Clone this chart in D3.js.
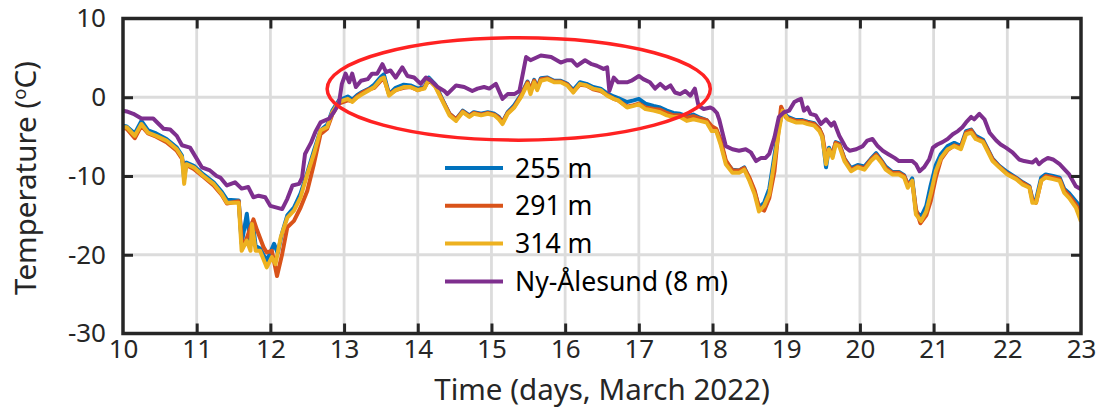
<!DOCTYPE html>
<html>
<head>
<meta charset="utf-8">
<script src="https://cdn.jsdelivr.net/npm/d3@7"></script>
<style>
  body { margin: 0; background: #fff; }
  svg { display: block; }
</style>
</head>
<body>
<svg id="chart"></svg>
<script>
const width = 1102;
const height = 408;
const plotLeft = 123, plotRight = 1081, plotTop = 18.5, plotBottom = 333.5;
const font = '"Noto Sans", sans-serif';

const dayTicks = [10, 11, 12, 13, 14, 15, 16, 17, 18, 19, 20, 21, 22, 23];
const tempTicks = [-30, -20, -10, 0, 10];
const seriesNames = ['255 m', '291 m', '314 m', 'Ny-Ålesund (8 m)'];
const seriesColors = ['#0072BD', '#D95319', '#EDB120', '#7E2F8E'];

// [day of March, temperature in deg C]
const temp255 = [
  [10.0,-3.6],[10.05,-3.7],[10.16,-4.6],[10.25,-3.0],[10.34,-4.2],[10.45,-4.6],[10.59,-5.3],[10.73,-6.4],[10.80,-7.4],[10.83,-10.4],
  [10.86,-8.3],[10.96,-8.7],[11.09,-9.8],[11.23,-10.8],[11.34,-12.0],[11.41,-13.0],[11.57,-13.1],[11.61,-18.6],[11.68,-14.8],[11.73,-18.8],
  [11.76,-15.8],[11.80,-18.9],[11.86,-19.2],[11.95,-20.8],[12.05,-18.6],[12.10,-19.8],[12.16,-17.2],[12.23,-15.0],[12.32,-14.0],[12.41,-12.2],
  [12.50,-9.6],[12.59,-6.8],[12.68,-4.2],[12.77,-3.5],[12.84,-1.7],[12.93,-0.4],[13.05,0.1],[13.11,-0.3],[13.18,0.3],[13.25,0.7],
  [13.34,1.1],[13.41,1.6],[13.50,2.6],[13.54,2.9],[13.61,0.4],[13.70,1.2],[13.81,1.6],[13.90,1.5],[14.0,1.1],[14.09,1.3],
  [14.15,2.5],[14.24,1.6],[14.33,-0.2],[14.43,-2.1],[14.52,-2.8],[14.61,-1.7],[14.70,-2.3],[14.76,-1.9],[14.86,-2.1],[14.95,-1.9],
  [15.04,-2.1],[15.10,-2.5],[15.15,-3.2],[15.22,-1.9],[15.31,-1.0],[15.40,0.3],[15.49,2.0],[15.53,0.8],[15.58,2.2],[15.62,1.2],
  [15.67,2.4],[15.76,2.5],[15.85,2.1],[15.94,2.1],[16.03,1.7],[16.11,0.9],[16.20,1.9],[16.29,1.7],[16.38,1.3],[16.48,1.1],
  [16.57,0.5],[16.66,0.1],[16.72,-0.1],[16.84,-0.6],[16.93,-0.4],[17.0,-0.2],[17.09,-0.8],[17.20,-1.1],[17.29,-1.3],[17.38,-1.7],
  [17.47,-2.0],[17.56,-2.1],[17.65,-2.4],[17.74,-2.2],[17.83,-2.6],[17.92,-2.9],[17.99,-4.0],[18.05,-4.1],[18.11,-5.7],[18.18,-8.2],
  [18.27,-9.2],[18.36,-9.3],[18.43,-8.9],[18.50,-10.4],[18.57,-12.0],[18.63,-14.0],[18.70,-13.4],[18.77,-11.6],[18.84,-7.4],[18.90,-3.8],
  [18.95,-1.8],[19.02,-2.5],[19.13,-2.9],[19.22,-2.9],[19.29,-3.1],[19.38,-3.3],[19.45,-4.0],[19.49,-4.9],[19.54,-8.9],[19.58,-6.4],
  [19.63,-7.4],[19.67,-5.7],[19.72,-5.9],[19.79,-7.8],[19.88,-9.0],[19.97,-8.6],[20.06,-8.8],[20.15,-7.8],[20.22,-7.1],[20.29,-8.0],
  [20.35,-8.8],[20.44,-9.5],[20.53,-9.5],[20.60,-9.9],[20.65,-11.2],[20.71,-10.3],[20.76,-14.5],[20.83,-15.2],[20.90,-13.8],[20.96,-11.2],
  [21.03,-8.6],[21.10,-7.2],[21.19,-6.2],[21.28,-5.8],[21.37,-6.2],[21.44,-4.3],[21.51,-4.1],[21.57,-4.9],[21.67,-5.4],[21.73,-6.5],
  [21.80,-7.8],[21.89,-8.7],[22.0,-9.5],[22.12,-10.2],[22.21,-10.8],[22.30,-11.3],[22.34,-12.9],[22.39,-13.0],[22.46,-10.2],[22.52,-9.8],
  [22.62,-10.0],[22.71,-10.2],[22.77,-11.6],[22.84,-12.2],[22.93,-13.2],[23.0,-14.0]
];

const temp291 = [
  [10.0,-3.9],[10.05,-4.0],[10.16,-5.2],[10.25,-3.6],[10.34,-4.6],[10.45,-5.0],[10.59,-5.7],[10.73,-6.8],[10.80,-7.8],[10.83,-9.0],
  [10.86,-8.6],[10.96,-9.1],[11.09,-10.1],[11.23,-11.2],[11.34,-12.4],[11.41,-13.5],[11.57,-13.2],[11.61,-18.2],[11.66,-18.4],[11.72,-16.8],
  [11.77,-15.5],[11.82,-16.9],[11.91,-19.1],[11.95,-19.7],[12.02,-19.5],[12.09,-22.7],[12.16,-19.9],[12.23,-16.5],[12.32,-15.7],[12.41,-14.0],
  [12.50,-11.9],[12.59,-8.5],[12.68,-4.7],[12.77,-4.0],[12.84,-2.2],[12.93,-0.8],[13.05,-0.4],[13.11,-0.5],[13.18,0.1],[13.25,0.6],
  [13.34,1.0],[13.41,1.2],[13.50,2.1],[13.54,2.4],[13.61,0.4],[13.70,0.9],[13.81,1.2],[13.90,1.3],[14.0,0.9],[14.09,1.2],
  [14.15,2.2],[14.24,1.4],[14.33,-0.3],[14.43,-2.1],[14.52,-2.8],[14.61,-1.8],[14.70,-2.4],[14.76,-2.0],[14.86,-2.2],[14.95,-2.0],
  [15.04,-2.2],[15.10,-2.6],[15.15,-3.2],[15.22,-2.0],[15.31,-1.2],[15.40,0.2],[15.49,1.9],[15.53,1.0],[15.58,2.1],[15.62,1.1],
  [15.67,2.3],[15.76,2.4],[15.85,2.0],[15.94,2.0],[16.03,1.6],[16.11,0.7],[16.20,1.6],[16.29,1.5],[16.38,1.0],[16.48,0.8],
  [16.57,0.3],[16.66,-0.2],[16.72,-0.4],[16.84,-1.2],[16.93,-1.0],[17.0,-0.8],[17.09,-1.3],[17.20,-1.5],[17.29,-1.6],[17.38,-2.0],
  [17.47,-2.3],[17.56,-2.3],[17.65,-2.6],[17.74,-2.4],[17.83,-2.7],[17.92,-2.9],[17.99,-3.7],[18.05,-4.0],[18.11,-5.4],[18.18,-8.0],
  [18.27,-9.3],[18.36,-9.3],[18.43,-9.0],[18.50,-10.2],[18.57,-11.8],[18.63,-14.0],[18.70,-14.4],[18.77,-12.8],[18.84,-9.4],[18.90,-3.8],
  [18.93,-1.2],[19.0,-2.6],[19.13,-3.0],[19.22,-3.0],[19.29,-3.2],[19.38,-3.4],[19.45,-4.0],[19.49,-4.8],[19.54,-7.6],[19.58,-6.8],
  [19.63,-7.0],[19.67,-5.8],[19.72,-6.0],[19.79,-7.8],[19.88,-9.2],[19.97,-8.8],[20.06,-9.0],[20.15,-7.9],[20.22,-7.3],[20.29,-8.1],
  [20.35,-9.0],[20.44,-9.6],[20.53,-9.6],[20.60,-10.0],[20.65,-11.0],[20.71,-10.7],[20.76,-14.2],[20.82,-16.0],[20.90,-15.0],[20.96,-13.2],
  [21.03,-10.2],[21.10,-7.9],[21.19,-6.7],[21.28,-6.1],[21.37,-6.4],[21.44,-4.5],[21.51,-4.2],[21.57,-5.1],[21.67,-5.6],[21.73,-6.6],
  [21.80,-7.9],[21.89,-8.8],[22.0,-9.7],[22.12,-10.3],[22.21,-10.9],[22.30,-11.4],[22.34,-13.0],[22.39,-13.4],[22.46,-10.6],[22.52,-10.0],
  [22.62,-10.2],[22.71,-10.4],[22.77,-11.8],[22.84,-12.5],[22.93,-13.6],[23.0,-14.8]
];

const temp314 = [
  [10.0,-3.8],[10.05,-3.8],[10.16,-4.9],[10.25,-3.4],[10.34,-4.5],[10.45,-4.9],[10.59,-5.5],[10.73,-6.6],[10.80,-7.6],[10.83,-11.0],
  [10.86,-8.5],[10.96,-8.9],[11.09,-10.0],[11.23,-11.0],[11.34,-12.3],[11.41,-13.4],[11.57,-13.4],[11.61,-19.5],[11.68,-18.2],[11.73,-19.5],
  [11.75,-16.1],[11.80,-19.5],[11.86,-19.5],[11.95,-21.6],[12.02,-20.3],[12.07,-21.2],[12.14,-17.8],[12.23,-15.3],[12.32,-14.4],[12.41,-12.7],
  [12.50,-9.8],[12.59,-7.2],[12.68,-4.2],[12.77,-3.8],[12.84,-1.9],[12.93,-0.6],[13.05,-0.2],[13.11,-0.6],[13.18,0.0],[13.25,0.4],
  [13.34,0.9],[13.41,1.3],[13.50,2.3],[13.54,2.5],[13.61,0.2],[13.70,0.9],[13.81,1.3],[13.90,1.3],[14.0,0.9],[14.09,1.1],
  [14.15,2.3],[14.24,1.3],[14.33,-0.4],[14.43,-2.3],[14.52,-3.0],[14.61,-1.9],[14.70,-2.5],[14.76,-2.1],[14.86,-2.3],[14.95,-2.1],
  [15.04,-2.3],[15.10,-2.8],[15.15,-3.4],[15.22,-2.1],[15.31,-1.3],[15.40,0.0],[15.49,1.7],[15.53,0.4],[15.58,1.9],[15.62,0.9],
  [15.67,2.1],[15.76,2.3],[15.85,1.9],[15.94,1.9],[16.03,1.5],[16.11,0.6],[16.20,1.7],[16.29,1.5],[16.38,1.1],[16.48,0.9],
  [16.57,0.2],[16.66,-0.2],[16.72,-0.4],[16.84,-1.3],[16.93,-1.1],[17.0,-0.9],[17.09,-1.5],[17.20,-1.7],[17.29,-1.9],[17.38,-2.3],
  [17.47,-2.5],[17.56,-2.5],[17.65,-3.0],[17.74,-2.8],[17.83,-3.0],[17.92,-3.2],[17.99,-4.3],[18.05,-4.3],[18.11,-6.0],[18.18,-8.5],
  [18.27,-9.6],[18.36,-9.6],[18.43,-9.2],[18.50,-10.6],[18.57,-12.3],[18.63,-14.5],[18.70,-13.8],[18.77,-12.3],[18.84,-8.1],[18.90,-4.3],
  [18.95,-1.7],[19.02,-2.8],[19.13,-3.2],[19.22,-3.2],[19.29,-3.4],[19.38,-3.6],[19.45,-4.3],[19.49,-5.1],[19.54,-8.5],[19.58,-6.6],
  [19.63,-7.7],[19.67,-6.0],[19.72,-6.2],[19.79,-8.1],[19.88,-9.4],[19.97,-8.9],[20.06,-9.2],[20.15,-8.1],[20.22,-7.5],[20.29,-8.3],
  [20.35,-9.2],[20.44,-9.8],[20.53,-9.8],[20.60,-10.2],[20.65,-11.5],[20.71,-10.6],[20.76,-14.9],[20.83,-15.7],[20.90,-14.5],[20.96,-12.3],
  [21.03,-9.4],[21.10,-7.7],[21.19,-6.6],[21.28,-6.2],[21.37,-6.6],[21.44,-4.7],[21.51,-4.5],[21.57,-5.3],[21.67,-5.7],[21.73,-6.8],
  [21.80,-8.1],[21.89,-8.9],[22.0,-9.8],[22.12,-10.4],[22.21,-11.1],[22.30,-11.5],[22.34,-13.4],[22.39,-13.4],[22.46,-10.6],[22.52,-10.2],
  [22.62,-10.4],[22.71,-10.6],[22.77,-12.1],[22.84,-12.8],[22.93,-14.0],[23.0,-15.8]
];

const tempNyAlesund = [
  [10.0,-1.7],[10.05,-1.8],[10.14,-2.1],[10.25,-2.7],[10.41,-2.7],[10.55,-4.0],[10.64,-4.1],[10.73,-4.9],[10.80,-6.1],[10.91,-6.4],
  [11.07,-8.9],[11.18,-9.3],[11.27,-10.0],[11.32,-10.2],[11.41,-11.2],[11.52,-10.8],[11.61,-11.6],[11.70,-11.4],[11.77,-12.7],[11.84,-12.5],
  [11.93,-12.7],[12.0,-13.8],[12.16,-14.2],[12.23,-12.9],[12.30,-11.2],[12.39,-11.0],[12.43,-10.2],[12.47,-7.2],[12.55,-5.8],[12.61,-4.4],
  [12.68,-3.2],[12.80,-2.7],[12.86,-1.9],[12.93,-0.8],[12.97,1.7],[13.02,3.0],[13.07,1.9],[13.11,3.0],[13.16,1.3],[13.23,2.1],
  [13.32,2.3],[13.38,3.0],[13.45,3.0],[13.52,4.2],[13.57,3.2],[13.63,3.4],[13.70,2.5],[13.79,3.8],[13.86,2.7],[13.95,2.5],
  [14.04,1.7],[14.11,2.5],[14.18,2.1],[14.27,1.3],[14.36,0.8],[14.40,0.4],[14.52,1.5],[14.63,1.3],[14.74,0.8],[14.81,1.1],
  [14.90,1.3],[14.97,1.1],[15.06,1.7],[15.15,-0.2],[15.22,0.4],[15.31,0.4],[15.38,0.8],[15.47,5.1],[15.53,4.7],[15.67,5.3],
  [15.81,5.1],[15.94,4.4],[16.03,4.7],[16.09,4.7],[16.16,4.0],[16.27,4.7],[16.36,4.2],[16.43,4.0],[16.52,3.6],[16.57,3.8],
  [16.60,0.8],[16.66,2.5],[16.72,1.9],[16.84,1.9],[16.90,2.1],[17.0,2.7],[17.06,2.3],[17.15,1.9],[17.22,1.1],[17.29,1.7],
  [17.36,1.1],[17.43,1.5],[17.49,0.6],[17.56,0.4],[17.63,0.8],[17.70,0.2],[17.76,1.1],[17.81,-1.1],[17.88,-1.5],[17.97,-1.3],
  [18.01,-1.5],[18.06,-2.0],[18.09,-2.8],[18.14,-4.7],[18.18,-6.2],[18.27,-6.6],[18.36,-6.8],[18.45,-6.6],[18.52,-7.0],[18.59,-8.1],
  [18.66,-7.7],[18.72,-7.7],[18.77,-7.2],[18.84,-5.1],[18.90,-2.5],[18.97,-1.9],[19.04,-1.7],[19.11,-0.6],[19.15,-0.4],[19.20,-0.2],
  [19.24,-1.7],[19.29,-1.3],[19.33,-2.1],[19.40,-2.3],[19.47,-3.4],[19.54,-2.8],[19.61,-3.6],[19.65,-3.2],[19.72,-4.9],[19.81,-6.4],
  [19.86,-6.8],[19.95,-6.6],[20.04,-6.2],[20.10,-5.5],[20.17,-5.3],[20.24,-6.2],[20.31,-6.8],[20.38,-7.2],[20.47,-7.7],[20.53,-8.1],
  [20.62,-8.1],[20.71,-8.1],[20.76,-8.5],[20.81,-9.4],[20.87,-8.9],[20.94,-7.9],[20.99,-6.4],[21.05,-6.0],[21.12,-5.7],[21.19,-5.3],
  [21.26,-4.7],[21.33,-4.3],[21.39,-3.8],[21.44,-3.2],[21.51,-2.5],[21.55,-2.8],[21.62,-2.1],[21.69,-2.8],[21.76,-4.5],[21.85,-5.5],
  [21.91,-6.0],[21.98,-6.4],[22.07,-7.0],[22.16,-7.9],[22.23,-8.1],[22.34,-8.3],[22.39,-7.9],[22.43,-8.5],[22.48,-8.1],[22.55,-7.7],
  [22.62,-7.9],[22.71,-8.5],[22.77,-9.1],[22.84,-9.8],[22.93,-11.3],[23.0,-11.7]
];

const seriesData = [temp255, temp291, temp314, tempNyAlesund];

// highlighted period: centre (day, degC) and radii
const ellipseCentre = [15.37, 1.05];
const ellipseRadii = [2.6, 6.5];

const svg = d3.select('#chart')
    .attr('width', width)
    .attr('height', height);

const x = d3.scaleLinear().domain([10, 23]).range([plotLeft, plotRight]);
const y = d3.scaleLinear().domain([-30, 10]).range([plotBottom, plotTop]);

svg.append('clipPath').attr('id', 'plot-clip')
    .append('rect')
    .attr('x', plotLeft).attr('y', plotTop)
    .attr('width', plotRight - plotLeft).attr('height', plotBottom - plotTop);

// grid
const grid = svg.append('g').attr('stroke', '#dcdcdc').attr('stroke-width', 2.8);
grid.selectAll('.gx').data(dayTicks.slice(1, -1)).enter().append('line')
    .attr('x1', d => x(d)).attr('x2', d => x(d))
    .attr('y1', plotTop).attr('y2', plotBottom);
grid.selectAll('.gy').data(tempTicks.slice(1, -1)).enter().append('line')
    .attr('x1', plotLeft).attr('x2', plotRight)
    .attr('y1', d => y(d)).attr('y2', d => y(d));

// series
const line = d3.line().x(d => x(d[0])).y(d => y(d[1]));
svg.append('g').attr('clip-path', 'url(#plot-clip)')
    .selectAll('path').data(seriesData).enter().append('path')
    .attr('fill', 'none')
    .attr('stroke', (d, i) => seriesColors[i])
    .attr('stroke-width', 4)
    .attr('stroke-linejoin', 'round')
    .attr('d', line);

// red ellipse
svg.append('ellipse')
    .attr('cx', x(ellipseCentre[0]))
    .attr('cy', y(ellipseCentre[1]))
    .attr('rx', x(ellipseCentre[0] + ellipseRadii[0]) - x(ellipseCentre[0]))
    .attr('ry', y(ellipseCentre[1]) - y(ellipseCentre[1] + ellipseRadii[1]))
    .attr('fill', 'none')
    .attr('stroke', '#ff2222')
    .attr('stroke-width', 3.5);

// legend
const legend = svg.append('g').attr('transform', 'translate(445, 168)');
const rows = legend.selectAll('g').data(seriesNames).enter().append('g')
    .attr('transform', (d, i) => `translate(0, ${i * 37.8})`);
rows.append('line')
    .attr('x1', 0).attr('x2', 58)
    .attr('stroke', (d, i) => seriesColors[i])
    .attr('stroke-width', 4);
rows.append('text')
    .attr('x', 70).attr('y', 9.5)
    .attr('font-family', font).attr('font-size', 26.6)
    .attr('fill', '#000')
    .text(d => d);

// axes with inward ticks on all sides
function styleAxis(g) {
    g.attr('font-family', font).attr('font-size', 26);
    g.select('.domain').remove();
    g.selectAll('.tick line').attr('stroke', '#262626').attr('stroke-width', 3);
    g.selectAll('.tick text').attr('fill', '#262626');
}
const inner = ticks => ticks.slice(1, -1);
const fmt = d => String(d);

svg.append('g').attr('transform', `translate(0, ${plotBottom})`)
    .call(d3.axisBottom(x).tickValues(dayTicks).tickSize(-10).tickPadding(6).tickFormat(fmt))
    .call(styleAxis)
    .call(g => g.selectAll('.tick').filter(d => d === 10 || d === 23).select('line').remove());
svg.append('g').attr('transform', `translate(0, ${plotTop})`)
    .call(d3.axisTop(x).tickValues(inner(dayTicks)).tickSize(-10).tickFormat(''))
    .call(styleAxis);
svg.append('g').attr('transform', `translate(${plotLeft}, 0)`)
    .call(d3.axisLeft(y).tickValues(tempTicks).tickSize(-10).tickPadding(17).tickFormat(fmt))
    .call(styleAxis)
    .call(g => g.selectAll('.tick').filter(d => d === -30 || d === 10).select('line').remove());
svg.append('g').attr('transform', `translate(${plotRight}, 0)`)
    .call(d3.axisRight(y).tickValues(inner(tempTicks)).tickSize(-10).tickFormat(''))
    .call(styleAxis);

// box
svg.append('rect')
    .attr('x', plotLeft).attr('y', plotTop)
    .attr('width', plotRight - plotLeft).attr('height', plotBottom - plotTop)
    .attr('fill', 'none')
    .attr('stroke', '#262626')
    .attr('stroke-width', 3.5);

// axis labels
svg.append('text')
    .attr('x', (plotLeft + plotRight) / 2).attr('y', 400)
    .attr('text-anchor', 'middle')
    .attr('font-family', font).attr('font-size', 29.5)
    .attr('fill', '#262626')
    .text('Time (days, March 2022)');

const yLabel = svg.append('text')
    .attr('transform', `translate(36, ${(plotTop + plotBottom) / 2 + 2}) rotate(-90)`)
    .attr('text-anchor', 'middle')
    .attr('font-family', font).attr('font-size', 29.5)
    .attr('fill', '#262626');
yLabel.append('tspan').text('Temperature (');
yLabel.append('tspan').attr('font-size', 18.5).attr('dy', -10).text('o');
yLabel.append('tspan').attr('dy', 10).text('C)');
</script>
</body>
</html>
